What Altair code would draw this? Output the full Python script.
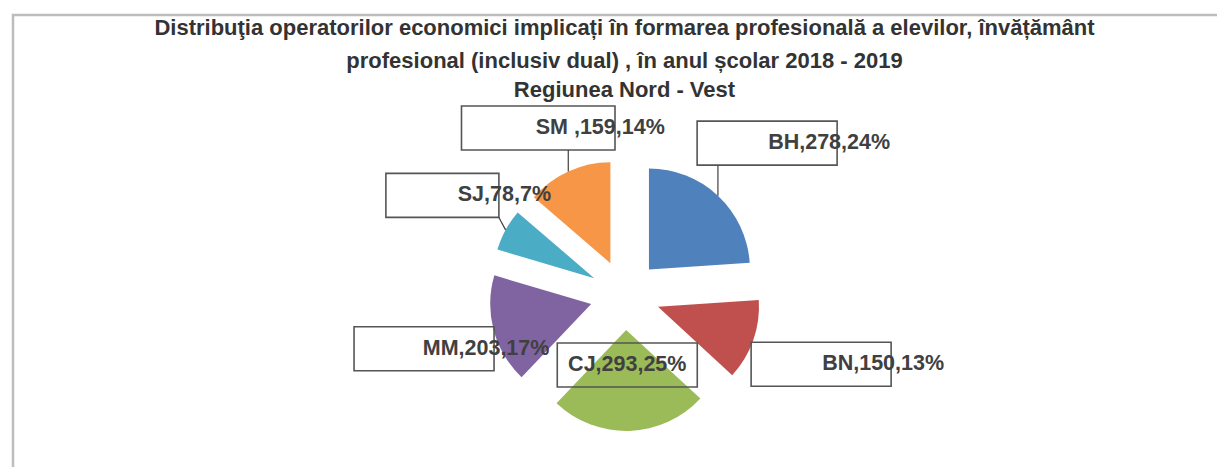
import altair as alt
import pandas as pd

# ---- data ----
regions = ["BH", "BN", "CJ", "MM", "SJ", "SM "]
operators = [278, 150, 293, 203, 78, 159]
slice_colors = ["#4F81BD", "#C0504D", "#9BBB59", "#8064A2", "#4BACC6", "#F79646"]

title_lines = [
    "Distribuţia operatorilor economici implicați în formarea profesională a elevilor, învățământ",
    "profesional (inclusiv dual) , în anul școlar 2018 - 2019",
]
subtitle_line = "Regiunea Nord - Vest"

# ---- layout / style constants ----
W, H, PAD_TOP = 1209, 359, 100
CX, CY = 617, 187      # pie centre (view pixels)
R = 101                # slice radius
EXPLODE = 35           # explosion distance of each slice
LR_OUT, LR_IN = 208, 70
LABEL_MIN_Y = 20       # keep label boxes below the title
TXT_SHIFT = 62
FONT = "Liberation Sans"

df = pd.DataFrame({"region": regions, "value": operators, "idx": list(range(len(regions)))})

base = (
    alt.Chart(df)
    .transform_joinaggregate(total="sum(value)")
    .transform_window(cum="sum(value)", sort=[alt.SortField("idx")], frame=[None, 0])
    .transform_calculate(
        t0="2*PI*(datum.cum - datum.value)/datum.total",
        t1="2*PI*datum.cum/datum.total",
    )
    .transform_calculate(mid="(datum.t0 + datum.t1)/2")
    .transform_calculate(
        cx=f"{CX} + {EXPLODE}*sin(datum.mid)",
        cy=f"{CY} - {EXPLODE}*cos(datum.mid)",
        inside="abs(datum.mid - PI) < 0.5",
        label="datum.region + ',' + datum.value + ',' + format(datum.value/datum.total, '.0%')",
    )
    .transform_calculate(
        lr=f"datum.inside ? {LR_IN} : {LR_OUT}",
        ox=f"datum.cx + {R}*sin(datum.mid)",
        oy=f"datum.cy - {R}*cos(datum.mid)",
        bw="13.5*length(datum.label) + 5",
    )
    .transform_calculate(
        bx=f"{CX} + datum.lr*sin(datum.mid)",
        by=f"max({LABEL_MIN_Y}, {CY} - datum.lr*cos(datum.mid))",
    )
    .transform_calculate(
        x1="datum.bx - datum.bw/2",
        x2="datum.bx + datum.bw/2",
        y1="datum.by - 22",
        y2="datum.by + 22",
        tx=f"datum.inside ? datum.bx : datum.bx + {TXT_SHIFT}",
    )
    .transform_calculate(
        lx="clamp(datum.ox, datum.x1, datum.x2)",
        ly="clamp(datum.oy, datum.y1, datum.y2)",
    )
    .transform_calculate(ld="sqrt(pow(datum.ox - datum.lx, 2) + pow(datum.oy - datum.ly, 2))")
)

arcs = base.mark_arc(radius=R).encode(
    theta=alt.Theta("t0:Q", scale=None),
    theta2="t1:Q",
    x=alt.X("cx:Q", scale=None, axis=None),
    y=alt.Y("cy:Q", scale=None, axis=None),
    color=alt.Color("region:N", scale=alt.Scale(domain=regions, range=slice_colors), legend=None),
)

boxes = base.mark_rect(fill="white", fillOpacity=0, stroke="#555555", strokeWidth=1.6).encode(
    x=alt.X("x1:Q", scale=None, axis=None),
    x2="x2:Q",
    y=alt.Y("y1:Q", scale=None, axis=None),
    y2="y2:Q",
)

leaders = base.transform_filter("!datum.inside && datum.ld > 10").mark_rule(
    color="#404040", strokeWidth=1.2
).encode(
    x=alt.X("ox:Q", scale=None, axis=None),
    y=alt.Y("oy:Q", scale=None, axis=None),
    x2="lx:Q",
    y2="ly:Q",
)

labels = base.mark_text(
    font=FONT, fontSize=21.5, fontWeight="bold", color="#404040", align="center", baseline="middle"
).encode(
    x=alt.X("tx:Q", scale=None, axis=None),
    y=alt.Y("by:Q", scale=None, axis=None),
    text="label:N",
)

frame = alt.Chart(pd.DataFrame({"f": [0]})).mark_rect(
    fill="white", fillOpacity=0, stroke="#bdbdbd", strokeWidth=2.5
).encode(
    x=alt.value(5), x2=alt.value(1260), y=alt.value(-93), y2=alt.value(420)
)

chart = (
    alt.layer(frame, arcs, boxes, leaders, labels)
    .properties(
        width=W,
        height=H,
        autosize="none",
        padding={"left": 0, "right": 0, "top": PAD_TOP, "bottom": 0},
        title=alt.Title(
            title_lines,
            subtitle=subtitle_line,
            font=FONT,
            fontSize=22,
            fontWeight="bold",
            color="#333333",
            lineHeight=33,
            subtitleFont=FONT,
            subtitleFontSize=22,
            subtitleFontWeight="bold",
            subtitleColor="#333333",
            subtitlePadding=7,
            anchor="middle",
            dx=12,
            dy=92,
        ),
    )
    .configure_view(stroke=None)
)

chart.save("out.html", embed_options={"renderer": "svg", "actions": False})
